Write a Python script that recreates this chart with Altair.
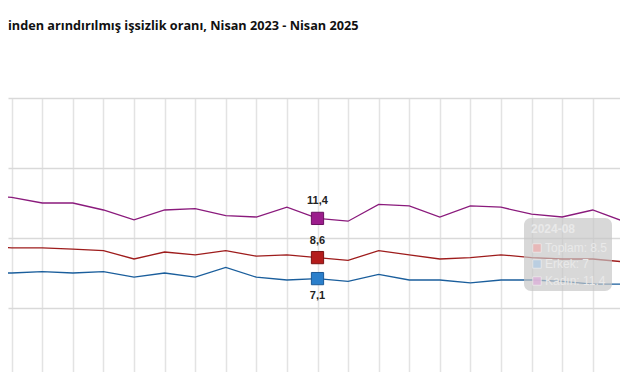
import altair as alt
import pandas as pd

# month index (0 = Nisan 2023 ... 24 = Nisan 2025); visible window shows indices ~1..23
idx = list(range(1, 24))
kadin = [13.1, 12.9, 12.5, 12.5, 12.0, 11.3, 12.0, 12.1, 11.6, 11.5, 12.2, 11.4,
         11.2, 12.4, 12.3, 11.5, 12.3, 12.2, 11.7, 11.5, 12.0, 11.2, 11.1]
toplam = [9.4, 9.3, 9.3, 9.2, 9.1, 8.5, 9.0, 8.8, 9.1, 8.7, 8.8, 8.6,
          8.4, 9.1, 8.8, 8.5, 8.6, 8.8, 8.6, 8.5, 8.5, 8.3, 8.1]
erkek = [7.5, 7.5, 7.6, 7.5, 7.6, 7.2, 7.5, 7.2, 7.9, 7.2, 7.0, 7.1,
         6.9, 7.4, 7.0, 7.0, 6.8, 7.0, 7.0, 6.9, 6.7, 6.7, 6.7]
series_names = ["Kadın", "Toplam", "Erkek"]
line_colors = ["#8a1a7c", "#9e1c1c", "#1a5e9c"]
marker_fill = ["#9c1c8c", "#b41c1c", "#2a7fcb"]
marker_stroke = ["#6a1060", "#7a1212", "#1b5a97"]
highlight_idx = 12
title_text = "inden arındırılmış işsizlik oranı, Nisan 2023 - Nisan 2025"
tooltip_lines = ["2024-08", "Toplam: 8.5", "Erkek: 7", "Kadın: 11.4"]
tooltip_swatches = ["#e9b5b5", "#b7cde2", "#dcb6da"]

rows = []
for name, vals in zip(series_names, [kadin, toplam, erkek]):
    for i, v in zip(idx, vals):
        rows.append({"i": i, "seri": name, "deger": v})
df = pd.DataFrame(rows)

W, H = 612, 274
xdom = [1.879, 21.892]
ydom = [0.4286, 20]

xs = alt.X("i:Q", scale=alt.Scale(domain=xdom, nice=False, zero=False),
           axis=alt.Axis(values=list(range(1, 24)), labels=False, ticks=False,
                         domain=False, title=None, grid=True,
                         gridColor="#e3e3e3", gridWidth=1.5))
ys = alt.Y("deger:Q", scale=alt.Scale(domain=ydom, nice=False, zero=False),
           axis=alt.Axis(values=[5, 10, 15, 20], labels=False, ticks=False,
                         domain=False, title=None, grid=True,
                         gridColor="#d9d9d9", gridWidth=1.5))
col = alt.Color("seri:N", scale=alt.Scale(domain=series_names, range=line_colors),
                legend=None)

base = alt.Chart(df)
lines = base.mark_line(strokeWidth=1.3, clip=True).encode(x=xs, y=ys, color=col)

hl = base.transform_filter(alt.datum.i == highlight_idx)
markers = hl.mark_square(size=150, opacity=1, strokeWidth=1).encode(
    x=xs, y=ys,
    fill=alt.Fill("seri:N", scale=alt.Scale(domain=series_names, range=marker_fill), legend=None),
    stroke=alt.Stroke("seri:N", scale=alt.Scale(domain=series_names, range=marker_stroke), legend=None),
)

lab_expr = "replace(format(datum.deger, '.1f'), '.', ',')"
labels_up = hl.transform_filter(alt.datum.seri != "Erkek").transform_calculate(
    lab=lab_expr).mark_text(dy=-17, fontSize=11, fontWeight="bold", font="Arial",
                            color="#222222").encode(x=xs, y=ys, text="lab:N")
labels_dn = hl.transform_filter(alt.datum.seri == "Erkek").transform_calculate(
    lab=lab_expr).mark_text(dy=17, fontSize=11, fontWeight="bold", font="Arial",
                            color="#222222").encode(x=xs, y=ys, text="lab:N")

one = pd.DataFrame({"a": [0]})
title = alt.Chart(pd.DataFrame({"t": [title_text]})).mark_text(
    align="left", baseline="alphabetic", font="Open Sans", fontSize=12.7,
    fontWeight="bold", color="#111111").encode(
    text="t:N", x=alt.value(0), y=alt.value(-68.5))

# faded tooltip left over in the screenshot
tip_layers = [alt.Chart(one).mark_rect(
    fill="#c6c6c6", opacity=0.68, cornerRadius=7).encode(
    x=alt.value(516), x2=alt.value(604), y=alt.value(120), y2=alt.value(193))]
row_y = [131, 150, 166, 183]
for k, t in enumerate(tooltip_lines):
    tx = 523 if k == 0 else 537
    tip_layers.append(alt.Chart(pd.DataFrame({"t": [t]})).mark_text(
        align="left", baseline="middle", font="Arial", fontSize=12,
        fontWeight="bold" if k == 0 else "normal", color="#e9e9e9").encode(
        text="t:N", x=alt.value(tx), y=alt.value(row_y[k])))
    if k > 0:
        tip_layers.append(alt.Chart(one).mark_square(
            size=72, opacity=0.9, fill=tooltip_swatches[k - 1],
            stroke="#eeeeee", strokeWidth=0.8).encode(
            x=alt.value(529), y=alt.value(row_y[k])))

chart = alt.layer(lines, markers, labels_up, labels_dn, *tip_layers, title).properties(
    width=W, height=H,
    autosize=alt.AutoSizeParams(type="none"),
    padding={"top": 90, "left": 0, "right": 0, "bottom": 0},
).configure_view(stroke=None)

chart.save("out.html", embed_options={"renderer": "svg", "actions": False})
